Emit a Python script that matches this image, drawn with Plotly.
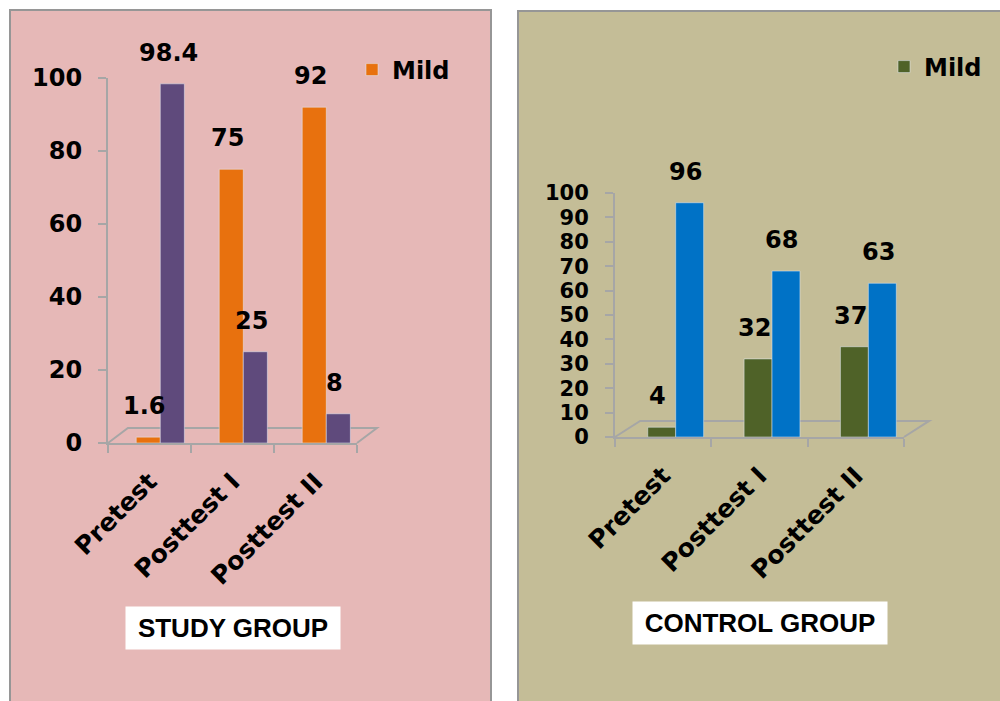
import plotly.graph_objects as go

categories = ["Pretest", "Posttest I", "Posttest II"]
study_mild = [1.6, 75, 92]
study_other = [98.4, 25, 8]
control_mild = [4, 32, 37]
control_other = [96, 68, 63]
study_ticks = [0, 20, 40, 60, 80, 100]
control_ticks = [0, 10, 20, 30, 40, 50, 60, 70, 80, 90, 100]

FONT = "DejaVu Sans"
W, H = 1000, 701

def px(x):
    return x / W

def py(y):
    return (H - y) / H

fig = go.Figure()

OFF1, OFF2, BW = -0.16, 0.13, 0.29

def add_bars(xa, ya, mild, other, c1, c2, legend):
    fig.add_trace(go.Bar(
        x=categories, y=mild, name="Mild", marker_color=c1,
        offset=OFF1, width=BW, xaxis=xa, yaxis=ya,
        legend=legend, showlegend=True,
    ))
    fig.add_trace(go.Bar(
        x=categories, y=other, name="Other", marker_color=c2,
        offset=OFF2, width=BW, xaxis=xa, yaxis=ya,
        legend=legend, showlegend=False,
    ))
    # value labels, lifted like the 3-D column labels in the original
    for off, vals in ((OFF1, mild), (OFF2, other)):
        for i, v in enumerate(vals):
            fig.add_annotation(
                xref=xa, yref=ya, x=i + off + BW / 2, y=v,
                text=f"{v:g}", showarrow=False, xshift=-4, yshift=31,
                xanchor="center", yanchor="middle",
                font=dict(family=FONT, size=24, color="black", weight="bold"),
            )

add_bars("x", "y", study_mild, study_other, "#E8710E", "#5F4A7C", "legend")
add_bars("x2", "y2", control_mild, control_other, "#4F6228", "#0072C6", "legend2")

axis_common = dict(showline=True, linecolor="#A6A6A6", linewidth=2, ticks="outside",
                   tickcolor="#A6A6A6", ticklen=8, tickwidth=2, showgrid=False,
                   zeroline=False, fixedrange=True)
xfont = dict(family=FONT, size=25, color="black", weight="bold")
yfont = dict(family=FONT, size=24, color="black", weight="bold")
yfont2 = dict(family=FONT, size=21, color="black", weight="bold")

fig.update_layout(
    width=W, height=H, margin=dict(l=0, r=0, t=0, b=0, autoexpand=False),
    paper_bgcolor="white", plot_bgcolor="rgba(0,0,0,0)",
    barmode="overlay",
    xaxis=dict(domain=[px(108), px(357)], type="category", range=[-0.5, 2.5],
               tickangle=-45, tickson="boundaries", anchor="y",
               ticklabelstandoff=12, tickfont=xfont, **axis_common),
    yaxis=dict(domain=[py(443), py(78)], range=[0, 100], tickvals=study_ticks,
               anchor="x", ticklabelstandoff=11, tickfont=yfont, **axis_common),
    xaxis2=dict(domain=[px(615), px(904)], type="category", range=[-0.5, 2.5],
                tickangle=-45, tickson="boundaries", anchor="y2",
                ticklabelstandoff=12, tickfont=xfont, **axis_common),
    yaxis2=dict(domain=[py(437), py(193)], range=[0, 100], tickvals=control_ticks,
                anchor="x2", ticklabelstandoff=12, tickfont=yfont2, **axis_common),
    legend=dict(x=px(352), y=py(70), xanchor="left", yanchor="middle",
                bgcolor="rgba(0,0,0,0)", itemwidth=30,
                font=dict(family=FONT, size=24, color="black", weight="bold")),
    legend2=dict(x=px(884), y=py(67), xanchor="left", yanchor="middle",
                 bgcolor="rgba(0,0,0,0)", itemwidth=30,
                 font=dict(family=FONT, size=24, color="black", weight="bold")),
)

# Panel backgrounds
fig.add_shape(type="rect", xref="paper", yref="paper", layer="below",
              x0=px(10), x1=px(491), y0=-0.05, y1=py(10),
              fillcolor="#E6B8B7", line=dict(color="#969696", width=2))
fig.add_shape(type="rect", xref="paper", yref="paper", layer="below",
              x0=px(518), x1=1.05, y0=-0.05, y1=py(11),
              fillcolor="#C4BD97", line=dict(color="#969696", width=2))

# 3D floor outlines
for xr, yr, dx, dy in [("x domain", "y domain", 0.08, 0.041), ("x2 domain", "y2 domain", 0.087, 0.066)]:
    fig.add_shape(type="path", xref=xr, yref=yr, layer="below",
                  path=f"M0,0 L{dx},{dy} L{1+dx},{dy} L1,0",
                  line=dict(color="#A6A6A6", width=2))

# Group titles
fig.add_annotation(xref="paper", yref="paper", x=px(233), y=py(628),
                   text="STUDY GROUP", showarrow=False, bgcolor="white",
                   width=212, height=40, xanchor="center", yanchor="middle",
                   font=dict(family="Liberation Sans", size=26, color="black", weight="bold"))
fig.add_annotation(xref="paper", yref="paper", x=px(760), y=py(623),
                   text="CONTROL GROUP", showarrow=False, bgcolor="white",
                   width=252, height=40, xanchor="center", yanchor="middle",
                   font=dict(family="Liberation Sans", size=26, color="black", weight="bold"))

fig.write_html("out.html")
